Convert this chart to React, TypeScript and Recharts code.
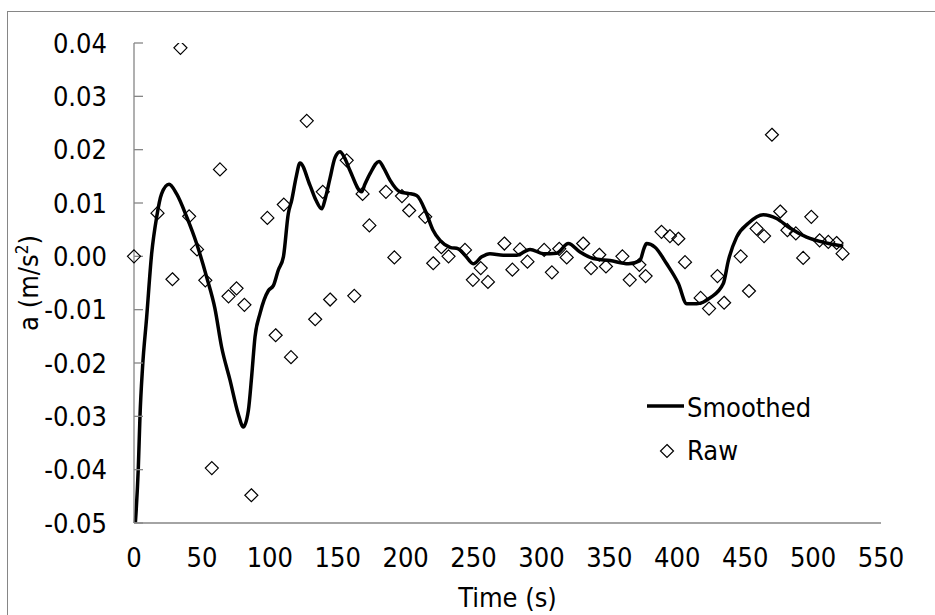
import React from "react";
import { ComposedChart, Line, Scatter, XAxis, YAxis } from "recharts";

const FONT = "'DejaVu Sans Condensed', 'DejaVu Sans', sans-serif";
const FS = 27;

const RAW_T = [0, 17.3, 28.3, 34.2, 40.6, 46.4, 52.5, 57.3, 63.3, 69.6, 75.5, 81.3, 86.4, 98.2, 104.3, 110.3, 115.6, 127.2, 133.4, 139, 144.4, 156.6, 162.2, 168.3, 173.3, 185.5, 191.7, 197.3, 202.6, 214.4, 220.3, 226.3, 231.6, 243.7, 249.5, 255.3, 260.6, 272.7, 278.6, 284.2, 289.7, 302, 307.7, 313.1, 318.6, 330.7, 336.5, 342.6, 347.5, 359.6, 365, 372.1, 376.7, 388.4, 394.6, 400.8, 405.7, 417.2, 423.4, 429.6, 434.5, 446.7, 452.8, 458.4, 463.9, 469.7, 475.8, 481.1, 487.3, 492.7, 498.7, 504.8, 511.2, 517.3, 521.7];
const RAW_A = [0, 0.0081, -0.0043, 0.0391, 0.0075, 0.0013, -0.0045, -0.0397, 0.0163, -0.0075, -0.006, -0.0091, -0.0448, 0.0072, -0.0148, 0.0097, -0.0189, 0.0254, -0.0118, 0.0121, -0.0081, 0.018, -0.0074, 0.0117, 0.0058, 0.0121, -0.0002, 0.0113, 0.0086, 0.0074, -0.0013, 0.0017, 0.0, 0.0012, -0.0044, -0.0022, -0.0048, 0.0024, -0.0025, 0.0013, -0.001, 0.0012, -0.003, 0.0014, -0.0002, 0.0024, -0.0022, 0.0003, -0.0019, 0.0, -0.0044, -0.0016, -0.0037, 0.0046, 0.0038, 0.0033, -0.0011, -0.0078, -0.0098, -0.0037, -0.0087, 0.0, -0.0065, 0.0052, 0.0038, 0.0228, 0.0084, 0.0049, 0.0043, -0.0003, 0.0074, 0.003, 0.0027, 0.0025, 0.0005];

const SMOOTH_T = [1, 3.2, 4.4, 6.3, 9.3, 13, 16.7, 20.3, 25.8, 31.4, 38.8, 46.1, 53.5, 59.6, 64.5, 70.7, 76.7, 80.5, 84.2, 86.6, 89.1, 92.8, 99, 102.6, 106.2, 110, 113.6, 116.1, 119.5, 122.2, 129.6, 134, 138.2, 141, 144.3, 148, 151.7, 155, 159, 167.6, 170, 173.8, 180.4, 184, 188.5, 195.9, 202, 208.1, 215.4, 220, 225.3, 232.7, 238.8, 243.7, 249.8, 256, 262.1, 271.9, 281.7, 291.6, 301.4, 311.2, 319.8, 328.4, 338.2, 350.5, 364, 372.5, 375.5, 377.4, 383.6, 392.2, 400.8, 407, 414.3, 424.1, 433.9, 437.6, 443.7, 452.3, 463.3, 473.1, 482.9, 495.2, 509.9, 522.2];
const SMOOTH_A = [-0.05, -0.0395, -0.03, -0.0208, -0.0115, 0.0005, 0.0074, 0.0117, 0.0135, 0.0117, 0.0074, 0.0024, -0.0039, -0.0098, -0.017, -0.0232, -0.0295, -0.032, -0.0289, -0.0226, -0.0151, -0.0107, -0.0064, -0.0055, -0.0026, -0.0001, 0.008, 0.0105, 0.015, 0.0175, 0.0133, 0.0105, 0.0089, 0.011, 0.0146, 0.0185, 0.0196, 0.0185, 0.0161, 0.0121, 0.0135, 0.0155, 0.0178, 0.0165, 0.0143, 0.0121, 0.0118, 0.0114, 0.008, 0.005, 0.003, 0.0017, 0.0014, 0.0002, -0.0014, -0.0001, 0.0005, 0.0002, 0.0002, 0.0013, 0.0005, 0.0006, 0.0024, 0.0008, -0.0004, -0.0008, -0.0014, -0.0008, 0.0015, 0.0024, 0.0017, -0.0014, -0.0051, -0.0089, -0.0089, -0.0078, -0.0051, -0.0008, 0.0036, 0.0062, 0.0078, 0.0071, 0.0053, 0.0036, 0.0025, 0.0019];

const X_TICKS = [0, 50, 100, 150, 200, 250, 300, 350, 400, 450, 500, 550];
const Y_TICKS = [-0.05, -0.04, -0.03, -0.02, -0.01, 0, 0.01, 0.02, 0.03, 0.04];
const LEGEND_ITEMS = ["Smoothed", "Raw"];

const rawData = RAW_T.map((t, i) => ({ t, a: RAW_A[i] }));
const smoothData = SMOOTH_T.map((t, i) => ({ t, a: SMOOTH_A[i] }));

const AXIS_COLOR = "#868686";

const Diamond = (props: any) => {
  const { cx, cy } = props;
  if (cx == null || cy == null) return null;
  const r = 6.5;
  return (
    <polygon
      points={`${cx},${cy - r} ${cx + r},${cy} ${cx},${cy + r} ${cx - r},${cy}`}
      fill="none"
      stroke="#000"
      strokeWidth={1.2}
    />
  );
};

const LegendBox = () => (
  <svg width={200} height={90} style={{ position: "absolute", left: 647, top: 394, overflow: "visible" }}>
    <line x1={0} y1={12} x2={37} y2={12} stroke="#000" strokeWidth={3.5} />
    <text x={40} y={23} fontSize={FS} fontFamily={FONT} fill="#000">{LEGEND_ITEMS[0]}</text>
    <polygon points="20,50.5 26.5,57 20,63.5 13.5,57" fill="none" stroke="#000" strokeWidth={1.2} />
    <text x={40} y={66} fontSize={FS} fontFamily={FONT} fill="#000">{LEGEND_ITEMS[1]}</text>
  </svg>
);

export default function App() {
  return (
    <div style={{ position: "absolute", left: 0, top: 0, width: 935, height: 615, overflow: "hidden", background: "#fff" }}>
      <div style={{ position: "absolute", left: 7, top: 11, width: 1000, height: 1000, border: `1px solid ${AXIS_COLOR}` }} />
      <div style={{ position: "absolute", left: 0, top: 0 }}>
        <ComposedChart width={935} height={615} margin={{ top: 43, right: 54, bottom: 0, left: 0 }}>
          <XAxis
            type="number"
            dataKey="t"
            domain={[0, 550]}
            ticks={X_TICKS}
            interval={0}
            height={92}
            tickLine={false}
            tickSize={0}
            tickMargin={25}
            axisLine={{ stroke: AXIS_COLOR, strokeWidth: 1.3 }}
            tick={{ fontSize: FS, fill: "#000", fontFamily: FONT }}
            label={{
              content: () => (
                <text x={507.5} y={607} textAnchor="middle" fontSize={FS} fontFamily={FONT} fill="#000">Time (s)</text>
              ),
            }}
          />
          <YAxis
            type="number"
            dataKey="a"
            domain={[-0.05, 0.04]}
            ticks={Y_TICKS}
            interval={0}
            width={134}
            tickSize={-9}
            tickMargin={36}
            tickLine={{ stroke: AXIS_COLOR, strokeWidth: 1.3 }}
            axisLine={{ stroke: AXIS_COLOR, strokeWidth: 1.3 }}
            tick={{ fontSize: FS, fill: "#000", fontFamily: FONT }}
            tickFormatter={(v: number) => v.toFixed(2)}
            allowDataOverflow
            label={{
              content: () => (
                <text x={38} y={283} transform="rotate(-90, 38, 283)" textAnchor="middle" fontSize={FS} fontFamily={FONT} fill="#000">
                  a (m/s<tspan dy={-10} fontSize={17}>2</tspan><tspan dy={10}>)</tspan>
                </text>
              ),
            }}
          />
          <Scatter name="Raw" data={rawData} dataKey="a" shape={<Diamond />} isAnimationActive={false} />
          <Line name="Smoothed" data={smoothData} dataKey="a" type="monotone" stroke="#000" strokeWidth={3.5} dot={false} activeDot={false} isAnimationActive={false} />
        </ComposedChart>
      </div>
      <LegendBox />
    </div>
  );
}
